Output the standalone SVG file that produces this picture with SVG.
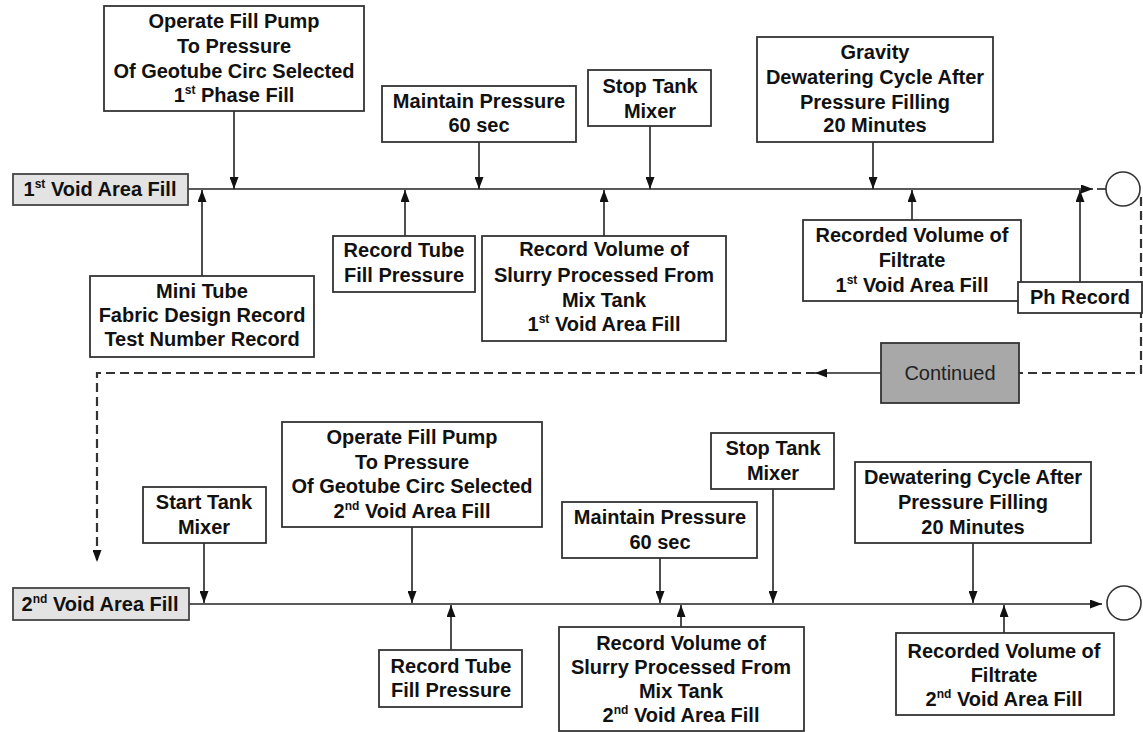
<svg xmlns="http://www.w3.org/2000/svg" width="1143" height="732" viewBox="0 0 1143 732">
<style>
.box{fill:#fff;stroke:#333;stroke-width:1.8}
.void{fill:#e3e3e3;stroke:#444;stroke-width:1.8}
.cont{fill:#a8a8a8;stroke:#333;stroke-width:1.8}
.t{font-family:"Liberation Sans",Arial,sans-serif;font-size:20px;font-weight:bold;fill:#111;text-anchor:middle}
.tn{font-family:"Liberation Sans",Arial,sans-serif;font-size:20px;fill:#222;text-anchor:middle}
.sup{font-size:12px}
.ln{fill:none;stroke:#222;stroke-width:1.6}
.dash{fill:none;stroke:#333;stroke-width:2.2;stroke-dasharray:9 5}
.circ{fill:#fff;stroke:#333;stroke-width:1.6}
</style>
<defs>
<marker id="ah" viewBox="0 0 12 9" refX="12" refY="4.5" markerWidth="12" markerHeight="9" markerUnits="userSpaceOnUse" orient="auto"><path d="M0,0 L12,4.5 L0,9 z" fill="#111"/></marker>
</defs>

<g id="connectors">
<line class="ln" x1="188" y1="189" x2="1093" y2="189" marker-end="url(#ah)"/>
<line class="ln" x1="1097" y1="189" x2="1106" y2="189"/>
<line class="ln" x1="234" y1="111" x2="234" y2="189" marker-end="url(#ah)"/>
<line class="ln" x1="479" y1="142" x2="479" y2="189" marker-end="url(#ah)"/>
<line class="ln" x1="650" y1="126" x2="650" y2="189" marker-end="url(#ah)"/>
<line class="ln" x1="873" y1="142" x2="873" y2="189" marker-end="url(#ah)"/>
<line class="ln" x1="202" y1="276" x2="202" y2="190" marker-end="url(#ah)"/>
<line class="ln" x1="405" y1="236" x2="405" y2="190" marker-end="url(#ah)"/>
<line class="ln" x1="604" y1="236" x2="604" y2="190" marker-end="url(#ah)"/>
<line class="ln" x1="912" y1="220" x2="912" y2="190" marker-end="url(#ah)"/>
<line class="ln" x1="1080" y1="282" x2="1080" y2="190" marker-end="url(#ah)"/>
<path class="dash" d="M1141,197 L1141,373 L1019,373"/>
<line class="ln" x1="881" y1="373" x2="815" y2="373" marker-end="url(#ah)"/>
<path class="dash" d="M815,373 L97,373 L97,562" marker-end="url(#ah)"/>
<line class="ln" x1="189" y1="604" x2="1102" y2="604" marker-end="url(#ah)"/>
<line class="ln" x1="204" y1="543" x2="204" y2="603" marker-end="url(#ah)"/>
<line class="ln" x1="412" y1="527" x2="412" y2="603" marker-end="url(#ah)"/>
<line class="ln" x1="660" y1="558" x2="660" y2="603" marker-end="url(#ah)"/>
<line class="ln" x1="773" y1="489" x2="773" y2="603" marker-end="url(#ah)"/>
<line class="ln" x1="973" y1="543" x2="973" y2="603" marker-end="url(#ah)"/>
<line class="ln" x1="451" y1="650" x2="451" y2="605" marker-end="url(#ah)"/>
<line class="ln" x1="681" y1="627" x2="681" y2="605" marker-end="url(#ah)"/>
<line class="ln" x1="1004" y1="633" x2="1004" y2="605" marker-end="url(#ah)"/>
</g>

<g id="void1"><rect class="void" x="13" y="174" width="175" height="31"/>
<text class="t" x="100" y="196">1<tspan class="sup" dy="-8">st</tspan><tspan dy="8"> Void Area Fill</tspan></text></g>

<g id="op1"><rect class="box" x="104" y="6" width="260" height="105"/>
<text class="t" x="234" y="28">Operate Fill Pump</text>
<text class="t" x="234" y="53">To Pressure</text>
<text class="t" x="234" y="78">Of Geotube Circ Selected</text>
<text class="t" x="234" y="102">1<tspan class="sup" dy="-8">st</tspan><tspan dy="8"> Phase Fill</tspan></text></g>

<g id="maint1"><rect class="box" x="382" y="86" width="194" height="56"/>
<text class="t" x="479" y="108">Maintain Pressure</text>
<text class="t" x="479" y="132">60 sec</text></g>

<g id="stop1"><rect class="box" x="588" y="70" width="123" height="56"/>
<text class="t" x="650" y="93">Stop Tank</text>
<text class="t" x="650" y="118">Mixer</text></g>

<g id="gravity"><rect class="box" x="757" y="37" width="236" height="105"/>
<text class="t" x="875" y="59">Gravity</text>
<text class="t" x="875" y="84">Dewatering Cycle After</text>
<text class="t" x="875" y="109">Pressure Filling</text>
<text class="t" x="875" y="132">20 Minutes</text></g>

<g id="mini"><rect class="box" x="90" y="276" width="224" height="81"/>
<text class="t" x="202" y="298">Mini Tube</text>
<text class="t" x="202" y="322">Fabric Design Record</text>
<text class="t" x="202" y="346">Test Number Record</text></g>

<g id="rtube1"><rect class="box" x="333" y="236" width="142" height="56"/>
<text class="t" x="404" y="257">Record Tube</text>
<text class="t" x="404" y="282">Fill Pressure</text></g>

<g id="rvol1"><rect class="box" x="482" y="236" width="244" height="105"/>
<text class="t" x="604" y="256">Record Volume of</text>
<text class="t" x="604" y="282">Slurry Processed From</text>
<text class="t" x="604" y="307">Mix Tank</text>
<text class="t" x="604" y="331">1<tspan class="sup" dy="-8">st</tspan><tspan dy="8"> Void Area Fill</tspan></text></g>

<g id="rfilt1"><rect class="box" x="803" y="220" width="218" height="81"/>
<text class="t" x="912" y="242">Recorded Volume of</text>
<text class="t" x="912" y="267">Filtrate</text>
<text class="t" x="912" y="292">1<tspan class="sup" dy="-8">st</tspan><tspan dy="8"> Void Area Fill</tspan></text></g>

<g id="ph"><rect class="box" x="1018" y="282" width="124" height="31"/>
<text class="t" x="1080" y="304">Ph Record</text></g>

<g id="end1"><circle class="circ" cx="1123" cy="189" r="17"/></g>

<g id="continued"><rect class="cont" x="881" y="343" width="138" height="60"/>
<text class="tn" x="950" y="380">Continued</text></g>

<g id="void2"><rect class="void" x="13" y="588" width="176" height="32"/>
<text class="t" x="100" y="611">2<tspan class="sup" dy="-8">nd</tspan><tspan dy="8"> Void Area Fill</tspan></text></g>

<g id="start2"><rect class="box" x="143" y="487" width="123" height="56"/>
<text class="t" x="204" y="509">Start Tank</text>
<text class="t" x="204" y="534">Mixer</text></g>

<g id="op2"><rect class="box" x="282" y="422" width="260" height="105"/>
<text class="t" x="412" y="444">Operate Fill Pump</text>
<text class="t" x="412" y="469">To Pressure</text>
<text class="t" x="412" y="493">Of Geotube Circ Selected</text>
<text class="t" x="412" y="518">2<tspan class="sup" dy="-8">nd</tspan><tspan dy="8"> Void Area Fill</tspan></text></g>

<g id="maint2"><rect class="box" x="562" y="502" width="195" height="56"/>
<text class="t" x="660" y="524">Maintain Pressure</text>
<text class="t" x="660" y="549">60 sec</text></g>

<g id="stop2"><rect class="box" x="711" y="433" width="123" height="56"/>
<text class="t" x="773" y="455">Stop Tank</text>
<text class="t" x="773" y="480">Mixer</text></g>

<g id="dew2"><rect class="box" x="855" y="462" width="236" height="81"/>
<text class="t" x="973" y="484">Dewatering Cycle After</text>
<text class="t" x="973" y="509">Pressure Filling</text>
<text class="t" x="973" y="534">20 Minutes</text></g>

<g id="rtube2"><rect class="box" x="379" y="650" width="143" height="57"/>
<text class="t" x="451" y="673">Record Tube</text>
<text class="t" x="451" y="697">Fill Pressure</text></g>

<g id="rvol2"><rect class="box" x="559" y="627" width="245" height="104"/>
<text class="t" x="681" y="650">Record Volume of</text>
<text class="t" x="681" y="674">Slurry Processed From</text>
<text class="t" x="681" y="698">Mix Tank</text>
<text class="t" x="681" y="722">2<tspan class="sup" dy="-8">nd</tspan><tspan dy="8"> Void Area Fill</tspan></text></g>

<g id="rfilt2"><rect class="box" x="896" y="633" width="218" height="82"/>
<text class="t" x="1004" y="658">Recorded Volume of</text>
<text class="t" x="1004" y="682">Filtrate</text>
<text class="t" x="1004" y="706">2<tspan class="sup" dy="-8">nd</tspan><tspan dy="8"> Void Area Fill</tspan></text></g>

<g id="end2"><circle class="circ" cx="1124" cy="603" r="17"/></g>
</svg>
